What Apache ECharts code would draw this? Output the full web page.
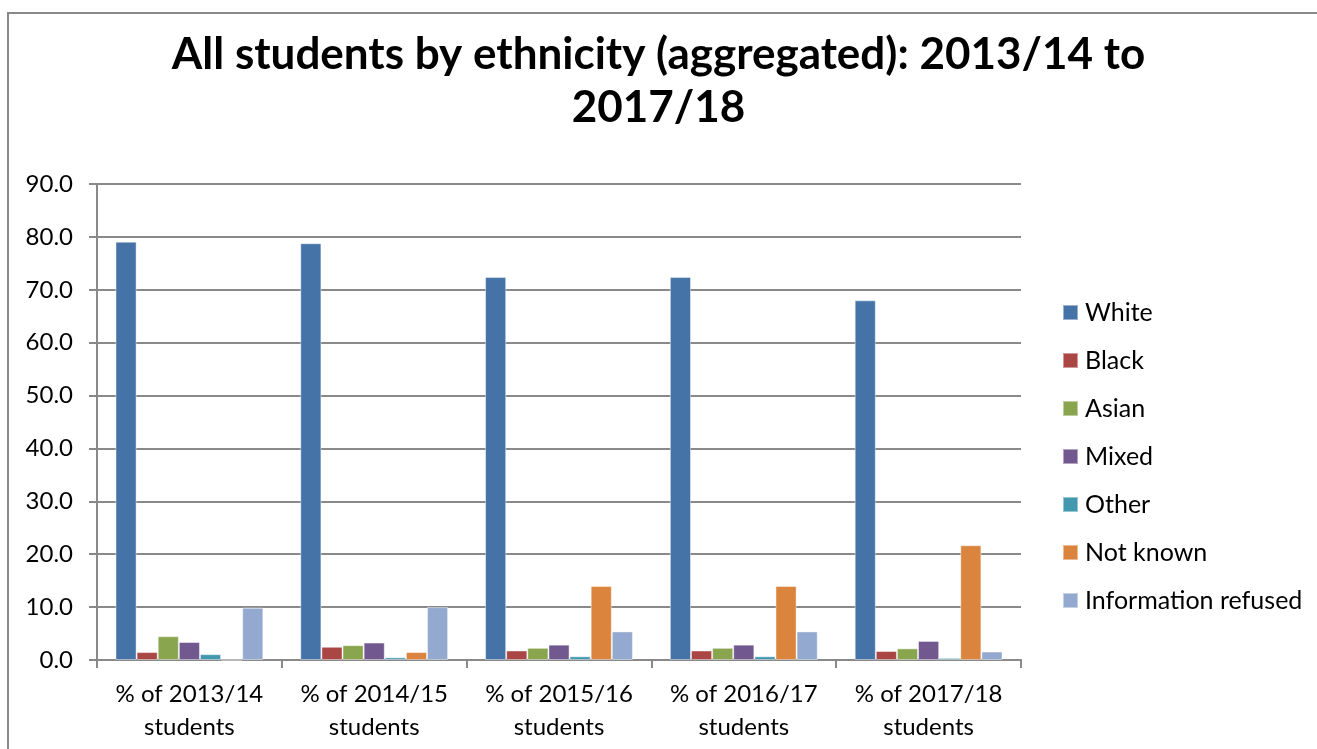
<!DOCTYPE html>
<html>
<head>
<meta charset="utf-8">
<script src="https://cdn.jsdelivr.net/npm/echarts@6/dist/echarts.min.js"></script>
<style>
  html, body { margin: 0; padding: 0; background: #ffffff; }
  #chart { width: 1317px; height: 749px; }
</style>
</head>
<body>
<div id="chart"></div>
<script>
// Academic years shown on the category axis
const categories = [
  '% of 2013/14\nstudents',
  '% of 2014/15\nstudents',
  '% of 2015/16\nstudents',
  '% of 2016/17\nstudents',
  '% of 2017/18\nstudents'
];

// Share of students (%) in each ethnic group, per year
const white = [79.1, 78.8, 72.4, 72.4, 68.0];
const black = [1.5, 2.5, 1.8, 1.8, 1.7];
const asian = [4.5, 2.8, 2.3, 2.3, 2.2];
const mixed = [3.4, 3.3, 2.9, 2.9, 3.6];
const other = [1.1, 0.5, 0.7, 0.7, 0.4];
const notKnown = [0.0, 1.5, 14.0, 14.0, 21.7];
const infoRefused = [9.9, 10.0, 5.4, 5.4, 1.6];

const seriesNames = ['White', 'Black', 'Asian', 'Mixed', 'Other', 'Not known', 'Information refused'];
const seriesData = [white, black, asian, mixed, other, notKnown, infoRefused];
const seriesColors = ['#4572A7', '#AA4643', '#89A54E', '#71588F', '#4198AF', '#DB843D', '#93A9CF'];

const FONT = 'Lato, "Open Sans", sans-serif';
const GREY = '#898989';

const chart = echarts.init(document.getElementById('chart'), null, { renderer: 'canvas' });

chart.setOption({
  backgroundColor: '#ffffff',
  animation: false,
  title: {
    text: 'All students by ethnicity (aggregated): 2013/14 to\n2017/18',
    left: 'center',
    top: 23,
    textStyle: {
      fontFamily: FONT,
      fontWeight: 'bold',
      fontSize: 44,
      lineHeight: 53,
      color: '#000000'
    }
  },
  graphic: [{
    type: 'rect',
    shape: { x: 8, y: 13, width: 1320, height: 760 },
    style: { fill: 'none', stroke: GREY, lineWidth: 2 },
    silent: true,
    z: -1
  }],
  legend: {
    orient: 'vertical',
    left: 1057,
    top: 295,
    icon: 'rect',
    itemWidth: 15,
    itemHeight: 15,
    itemGap: 23,
    textStyle: {
      fontFamily: FONT,
      fontSize: 25,
      lineHeight: 25,
      color: '#000000',
      padding: [0, 0, 0, 2]
    },
    data: seriesNames
  },
  grid: {
    left: 97,
    right: 296,
    top: 184,
    bottom: 89,
    containLabel: false
  },
  xAxis: {
    type: 'category',
    data: categories,
    axisLine: { show: true, lineStyle: { color: GREY, width: 2 } },
    axisTick: { show: true, length: 8, lineStyle: { color: GREY, width: 2 } },
    axisLabel: {
      fontFamily: FONT,
      fontSize: 24,
      lineHeight: 33,
      color: '#000000',
      margin: 18,
      interval: 0
    }
  },
  yAxis: {
    type: 'value',
    min: 0,
    max: 90,
    interval: 10,
    axisLine: { show: true, lineStyle: { color: GREY, width: 2 } },
    axisTick: { show: true, length: 8, lineStyle: { color: GREY, width: 2 } },
    splitLine: { show: true, lineStyle: { color: GREY, width: 2 } },
    axisLabel: {
      fontFamily: FONT,
      fontSize: 24,
      color: '#000000',
      margin: 24,
      formatter: v => v.toFixed(1)
    }
  },
  series: seriesNames.map((name, i) => ({
    name,
    type: 'bar',
    data: seriesData[i],
    barGap: '0%',
    barCategoryGap: '20%',
    itemStyle: {
      color: seriesColors[i],
      borderColor: 'rgba(255,255,255,0.45)',
      borderWidth: 1
    }
  }))
});
</script>
</body>
</html>
